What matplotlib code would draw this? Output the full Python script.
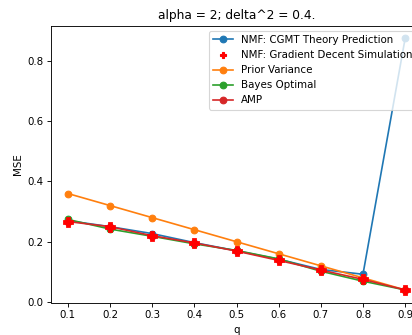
import matplotlib
matplotlib.use("Agg")
import matplotlib.pyplot as plt
from matplotlib.lines import Line2D

q = [0.1, 0.2, 0.3, 0.4, 0.5, 0.6, 0.7, 0.8, 0.9]
cgmt = [0.270, 0.250, 0.227, 0.197, 0.170, 0.142, 0.108, 0.092, 0.875]
sim = [0.267, 0.250, 0.220, 0.196, 0.168, 0.138, 0.106, 0.076, 0.040]
prior = [0.36, 0.32, 0.28, 0.24, 0.20, 0.16, 0.12, 0.08, 0.04]
bayes = [0.274, 0.242, 0.218, 0.193, 0.171, 0.143, 0.102, 0.069, 0.040]
amp = [0.267, 0.250, 0.220, 0.196, 0.169, 0.138, 0.106, 0.075, 0.040]

plt.rcParams['font.size'] = 9.2

dpi = 80
fig = plt.figure(figsize=(412 / dpi, 335 / dpi), dpi=dpi)
ax = fig.add_axes([51 / 412, (335 - 302.5) / 335, 371 / 412, (302.5 - 25.8) / 335])

ax.plot(q, cgmt, marker='o', color='tab:blue', label='NMF: CGMT Theory Prediction')
ax.plot(q, prior, marker='o', color='tab:orange', label='Prior Variance')
ax.plot(q, bayes, marker='o', color='tab:green', label='Bayes Optimal')
ax.plot(q, amp, marker='o', color='tab:red', label='AMP')
ax.plot(q, sim, linestyle='none', marker='P', color='red', markersize=7,
        markeredgewidth=2.5, zorder=5)

handles = [
    Line2D([], [], marker='o', color='tab:blue', label='NMF: CGMT Theory Prediction'),
    Line2D([], [], marker='P', linestyle='none', color='red', markersize=6,
           label='NMF: Gradient Decent Simulation'),
    Line2D([], [], marker='o', color='tab:orange', label='Prior Variance'),
    Line2D([], [], marker='o', color='tab:green', label='Bayes Optimal'),
    Line2D([], [], marker='o', color='tab:red', label='AMP'),
]
ax.legend(handles=handles, loc='upper right')
ax.set_xticks(q)
ax.set_xlabel('q')
ax.set_ylabel('MSE')
ax.set_title('alpha = 2; delta^2 = 0.4.')

fig.savefig('out.png', dpi=dpi)
